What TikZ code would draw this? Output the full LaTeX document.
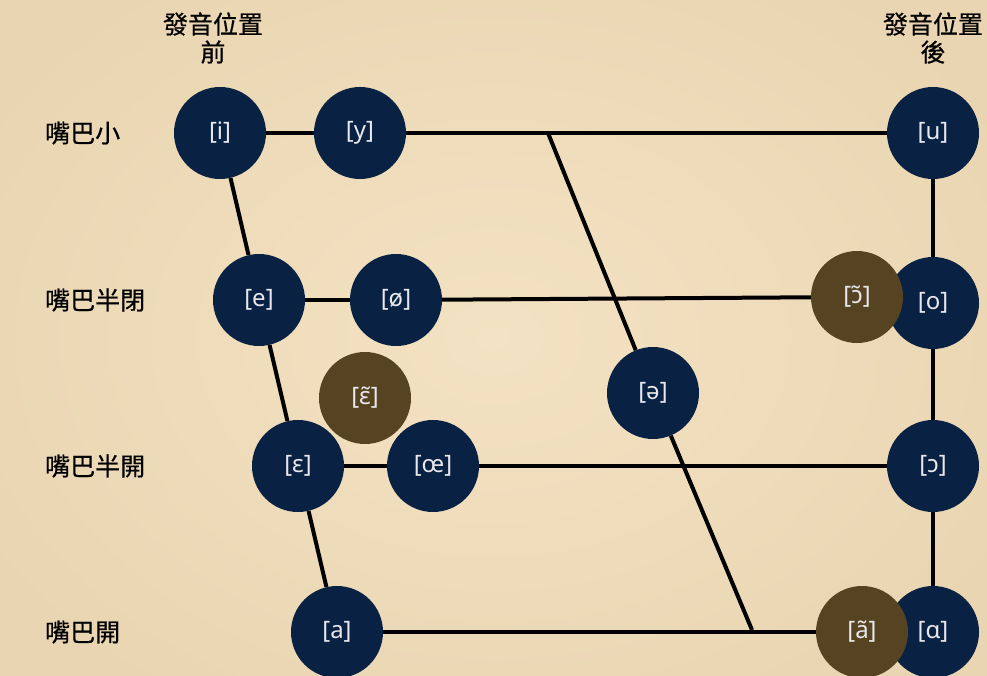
\documentclass[tikz,border=0pt]{standalone}
\usepackage{fontspec}
\setmainfont{Noto Sans}
\newfontfamily\cjk[FakeBold=0.6]{Noto Sans CJK TC}
\definecolor{navy}{RGB}{9,33,67}
\definecolor{bronze}{RGB}{86,67,33}
\definecolor{paperlight}{RGB}{243,226,195}
\definecolor{paperdark}{RGB}{233,213,177}
\definecolor{glyph}{RGB}{232,232,236}
\tikzset{
  vowel/.style={circle, minimum size=92pt, inner sep=0pt, fill=navy, text=glyph, font=\fontsize{24}{28}\selectfont},
  nasal/.style={vowel, fill=bronze},
  rowlabel/.style={anchor=west, inner sep=0pt, font=\cjk\fontsize{25}{28}\selectfont, text=black},
  header/.style={align=center, inner sep=0pt, font=\cjk\fontsize{25}{28}\selectfont, text=black},
  link/.style={line width=4pt, black}
}
\begin{document}
\begin{tikzpicture}[x=1pt,y=-1pt]
\useasboundingbox (0,0) rectangle (987,676);
\begin{scope}
\clip (0,0) rectangle (987,676);
\shade[inner color=paperlight, outer color=paperdark] (-100,-100) rectangle (1087,776);

% headers
\node[header] (hf) at (213,38) {發音位置\\前};
\node[header] (hb) at (933,38) {發音位置\\後};

% row labels
\node[rowlabel] (r1) at (45,133) {嘴巴小};
\node[rowlabel] (r2) at (45,300) {嘴巴半閉};
\node[rowlabel] (r3) at (45,466) {嘴巴半開};
\node[rowlabel] (r4) at (45,632) {嘴巴開};

% vowels
\node[vowel] (i)   at (220,133) {[i]};
\node[vowel] (y)   at (360,133) {[y]};
\node[vowel] (u)   at (933,133) {[u]};
\node[vowel] (e)   at (259,300) {[e]};
\node[vowel] (oe)  at (396,300) {[ø]};
\node[vowel] (o)   at (933,303) {[o]};
\node[vowel] (schwa) at (653,393) {[ə]};
\node[vowel] (eps) at (298,466) {[ɛ]};
\node[vowel] (oel) at (433,466) {[œ]};
\node[vowel] (oo)  at (933,466) {[ɔ]};
\node[vowel] (a)   at (337,632) {[a]};
\node[vowel] (ah)  at (933,632) {[ɑ]};

% nasal vowels
\node[nasal] (ont) at (857,297) {[ɔ̃]};
\node[nasal] (ent) at (365,398) {[ɛ̃]};
\node[nasal] (ant) at (862,632) {[ã]};

\coordinate (t1) at (548,133);
\coordinate (b1) at (752,630);

% connectors
\draw[link] (i) -- (y);
\draw[link] (y) -- (u);
\draw[link] (i) -- (e);
\draw[link] (e) -- (eps);
\draw[link] (eps) -- (a);
\draw[link] (e) -- (oe);
\draw[link] (oe) -- (ont);
\draw[link] (eps) -- (oel);
\draw[link] (oel) -- (oo);
\draw[link] (a) -- (ant);
\draw[link] (u) -- (o);
\draw[link] (o) -- (oo);
\draw[link] (oo) -- (ah);
\draw[link] (t1) -- (schwa);
\draw[link] (schwa) -- (b1);
\end{scope}
\end{tikzpicture}
\end{document}
